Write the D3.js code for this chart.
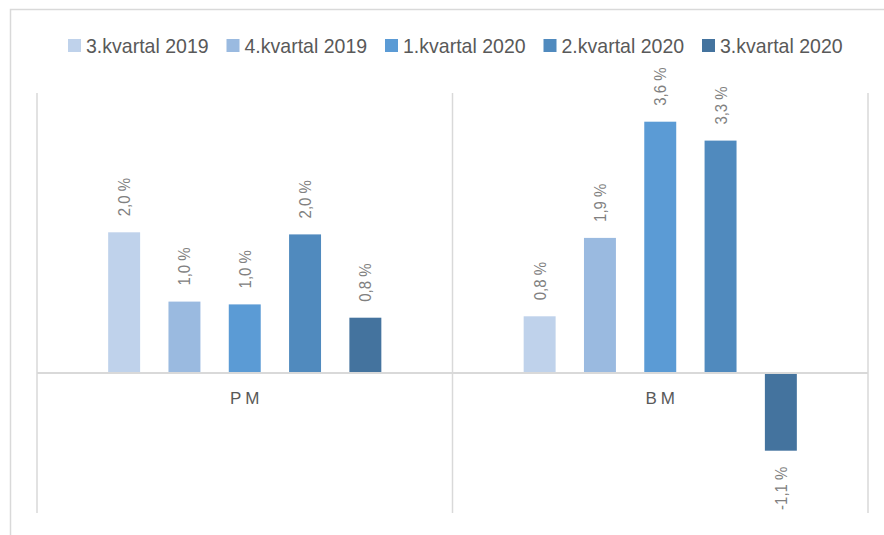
<!DOCTYPE html>
<html>
<head>
<meta charset="utf-8">
<script src="https://cdn.jsdelivr.net/npm/d3@7"></script>
<style>
  body { margin: 0; background: #fff; }
  text { font-family: "Liberation Sans", Arial, sans-serif; }
</style>
</head>
<body>
<svg id="chart" width="884" height="535"></svg>
<script>
// data
const categories = ["PM", "BM"]
const seriesNames = ["3.kvartal 2019", "4.kvartal 2019", "1.kvartal 2020", "2.kvartal 2020", "3.kvartal 2020"]
const pmValues = [2.01, 1.02, 0.98, 1.98, 0.79]
const bmValues = [0.81, 1.93, 3.59, 3.32, -1.11]
const colors = ["#bfd2eb", "#9abae0", "#5b9bd5", "#508abe", "#44739e"]

const valuesByCat = { PM: pmValues, BM: bmValues }

const svg = d3.select("#chart")

// outer frame (only top/left visible)
svg.append("rect")
   .attr("x", 10.5).attr("y", 9.5)
   .attr("width", 900).attr("height", 600)
   .attr("fill", "none")
   .attr("stroke", "#d9d9d9")
   .attr("stroke-width", 1.5)

const plotLeft = 37, plotRight = 868, plotTop = 93, plotBottom = 513

var x0 = d3.scaleBand().domain(categories).range([plotLeft, plotRight]).padding(0)
var x1 = d3.scaleBand().domain(seriesNames).range([0, x0.bandwidth()])
   .paddingInner(0.47).paddingOuter(1.18)
var y = d3.scaleLinear().domain([-2, 4]).range([plotBottom, plotTop])

// vertical separators between categories
const edges = categories.map(function(c) { return x0(c) }).concat([plotRight])
svg.append("g").selectAll("line").data(edges).enter().append("line")
   .attr("x1", function(d) { return d }).attr("x2", function(d) { return d })
   .attr("y1", plotTop).attr("y2", plotBottom)
   .attr("stroke", "#d9d9d9").attr("stroke-width", 1.5)

// bars
const groups = svg.append("g").selectAll("g").data(categories).enter().append("g")
   .attr("transform", function(c) { return "translate(" + x0(c) + ",0)" })

groups.selectAll("rect")
   .data(function(c) { return valuesByCat[c].map(function(v, i) { return { s: seriesNames[i], v: v, i: i } }) })
   .enter().append("rect")
   .attr("x", function(d) { return x1(d.s) })
   .attr("width", x1.bandwidth())
   .attr("y", function(d) { return y(Math.max(0, d.v)) })
   .attr("height", function(d) { return Math.abs(y(d.v) - y(0)) })
   .attr("fill", function(d) { return colors[d.i] })

// zero line
svg.append("line")
   .attr("x1", plotLeft).attr("x2", plotRight)
   .attr("y1", y(0)).attr("y2", y(0))
   .attr("stroke", "#d9d9d9").attr("stroke-width", 2)

// data labels, rotated (squeezed a bit to look like the narrow office font)
const fmt = function(v) { return d3.format(".1f")(v).replace(".", ",").replace("−", "-") + " %" }
groups.selectAll("text.lbl")
   .data(function(c) { return valuesByCat[c].map(function(v, i) { return { s: seriesNames[i], v: v } }) })
   .enter().append("text")
   .attr("class", "lbl")
   .attr("transform", function(d) {
      var cx = x1(d.s) + x1.bandwidth() / 2
      var cy = d.v >= 0 ? y(d.v) - 16 : y(d.v) + 16
      return "translate(" + cx + "," + cy + ") rotate(-90) scale(0.88,1)"
   })
   .attr("dy", "0.35em")
   .attr("text-anchor", function(d) { return d.v >= 0 ? "start" : "end" })
   .attr("font-size", 17)
   .attr("fill", "#808080")
   .text(function(d) { return fmt(d.v) })

// category labels
svg.append("g").selectAll("text").data(categories).enter().append("text")
   .attr("x", function(c) { return x0(c) + x0.bandwidth() / 2 + 2 })
   .attr("y", y(0) + 31)
   .attr("text-anchor", "middle")
   .attr("font-size", 17)
   .attr("letter-spacing", 4)
   .attr("fill", "#595959")
   .text(function(c) { return c })

// legend
const legend = svg.append("g").selectAll("g").data(seriesNames).enter().append("g")
   .attr("transform", function(d, i) { return "translate(" + (68 + i * 158.5) + ",39)" })
legend.append("rect")
   .attr("width", 13).attr("height", 13)
   .attr("fill", function(d, i) { return colors[i] })
legend.append("text")
   .attr("transform", "translate(18,13.5) scale(0.93,1)")
   .attr("font-size", 21)
   .attr("fill", "#595959")
   .text(function(d) { return d })
</script>
</body>
</html>
